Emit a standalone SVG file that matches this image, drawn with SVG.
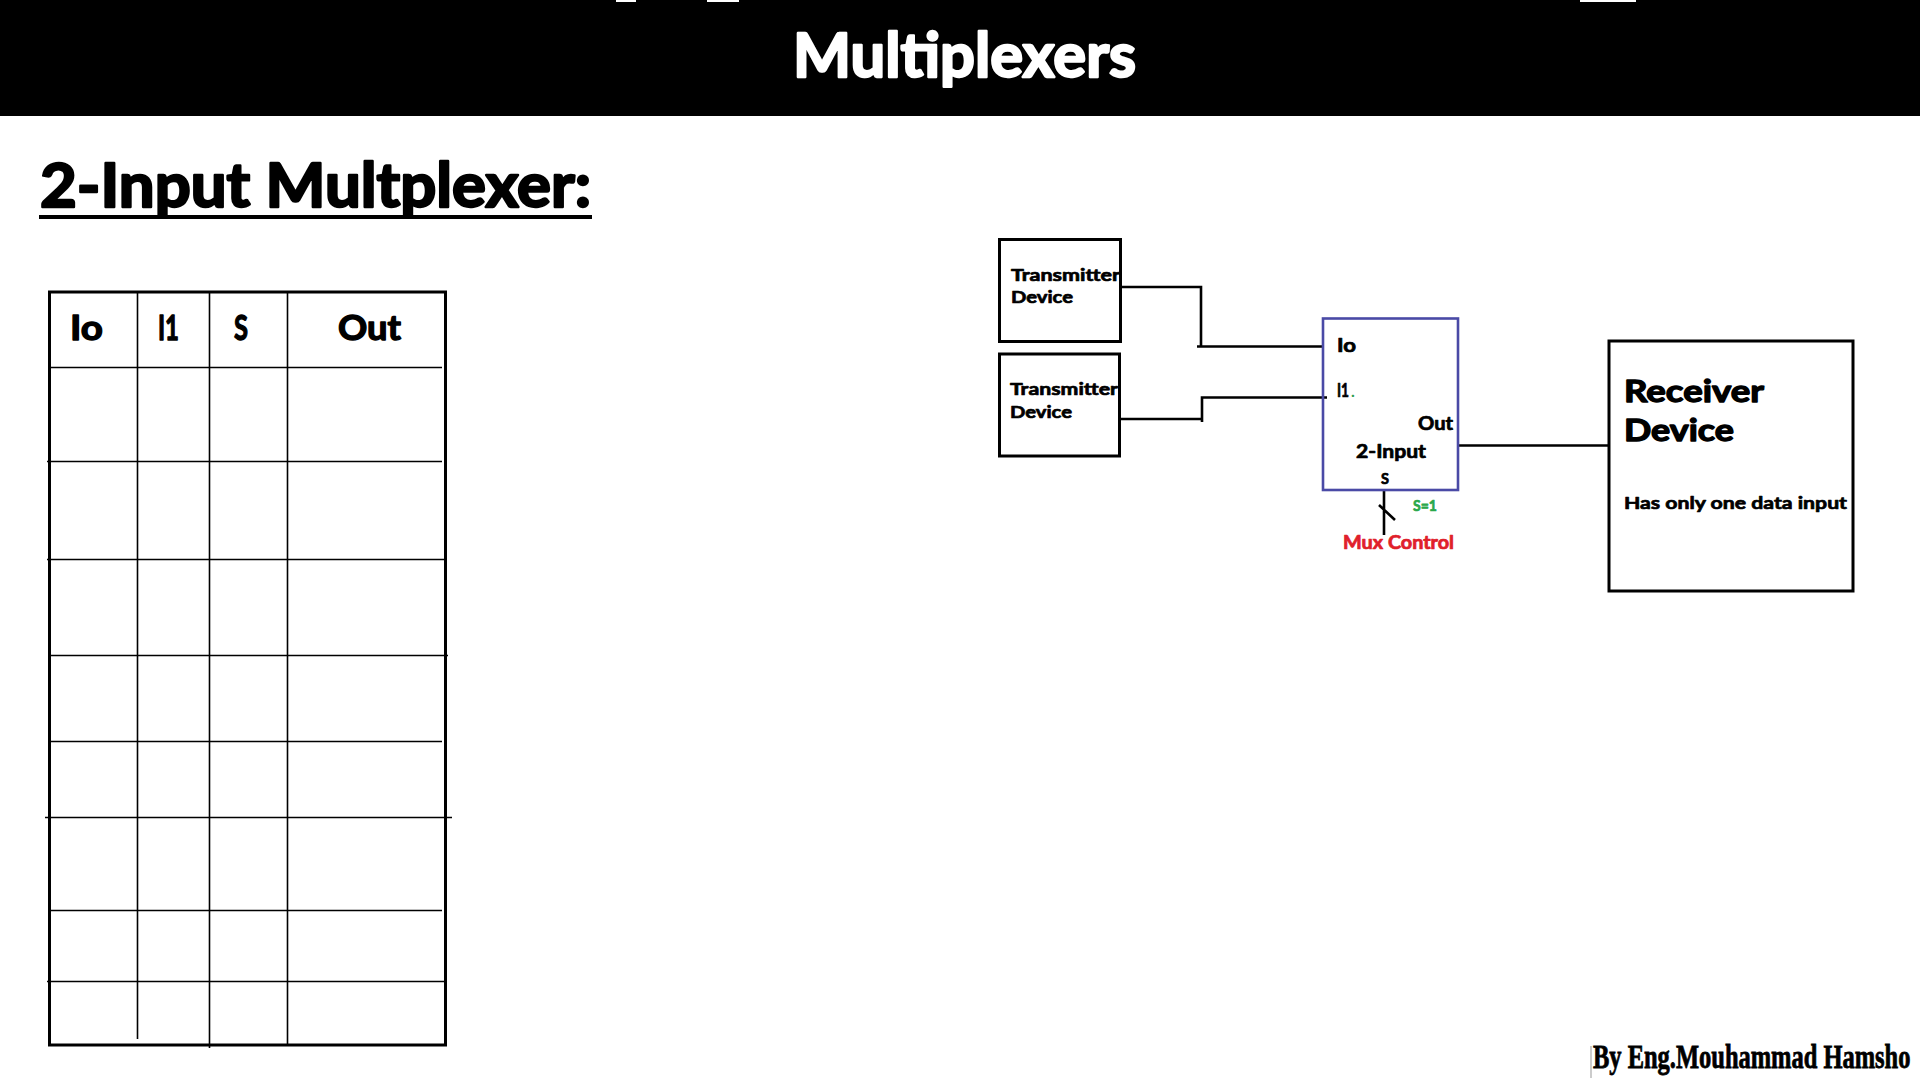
<svg xmlns="http://www.w3.org/2000/svg" width="1920" height="1080" viewBox="0 0 1920 1080">
  <style>
    .t { font-family: Lato, "Open Sans", "Liberation Sans", sans-serif; font-weight: bold; fill: #000; stroke: #000; stroke-linejoin: round; paint-order: stroke fill; }
    .xl { stroke-width: 2.4; }
    .lg { stroke-width: 1.3; }
    .md { stroke-width: 0.7; }
    .box { fill: #fff; stroke: #000; stroke-width: 3; }
    .grid { stroke: #000; stroke-width: 1.6; fill: none; }
    .wire { stroke: #000; stroke-width: 2.6; fill: none; }
  </style>
  <rect x="0" y="0" width="1920" height="1080" fill="#fff"/>

  <g id="header">
    <rect x="0" y="0" width="1920" height="116" fill="#000"/>
    <rect x="616" y="0" width="20" height="2" fill="#fff"/>
    <rect x="707" y="0" width="32" height="2" fill="#fff"/>
    <rect x="1580" y="0" width="56" height="2" fill="#fff"/>
    <text class="t xl" x="793" y="77" font-size="62" textLength="343" lengthAdjust="spacingAndGlyphs" style="fill:#fff;stroke:#fff">Multiplexers</text>
  </g>

  <g id="subtitle">
    <text class="t xl" x="40" y="207" font-size="61" textLength="551" lengthAdjust="spacingAndGlyphs">2-Input Multplexer:</text>
    <rect x="39" y="215" width="553" height="4" fill="#000"/>
  </g>

  <g id="truth-table">
    <rect x="49.5" y="292" width="396" height="753" fill="none" stroke="#000" stroke-width="3"/>
    <line class="grid" x1="137.5" y1="292" x2="137.5" y2="1039"/>
    <line class="grid" x1="209.5" y1="292" x2="209.5" y2="1048"/>
    <line class="grid" x1="287.5" y1="292" x2="287.5" y2="1045"/>
    <line class="grid" x1="50" y1="367.5" x2="442" y2="367.5"/>
    <line class="grid" x1="47" y1="461.5" x2="442" y2="461.5"/>
    <line class="grid" x1="47" y1="559.5" x2="447" y2="559.5"/>
    <line class="grid" x1="50" y1="655.5" x2="448" y2="655.5"/>
    <line class="grid" x1="50" y1="741.5" x2="442" y2="741.5"/>
    <line class="grid" x1="45" y1="817.5" x2="452" y2="817.5"/>
    <line class="grid" x1="50" y1="910.5" x2="442" y2="910.5"/>
    <line class="grid" x1="47" y1="981.5" x2="444" y2="981.5"/>
    <text class="t lg" x="70" y="340" font-size="34" textLength="33" lengthAdjust="spacingAndGlyphs">Io</text>
    <text class="t lg" x="158" y="340" font-size="34" textLength="21" lengthAdjust="spacingAndGlyphs">I1</text>
    <text class="t lg" x="234" y="340" font-size="34" textLength="14" lengthAdjust="spacingAndGlyphs">S</text>
    <text class="t lg" x="338" y="340" font-size="34" textLength="63" lengthAdjust="spacingAndGlyphs">Out</text>
  </g>

  <g id="connectors">
    <path class="wire" d="M1121,287 H1201 V346.5 H1323 M1197,346.5 H1201"/>
    <path class="wire" d="M1120,419 H1202 V397.5 H1327 M1202,419 V422"/>
    <path class="wire" d="M1458,445.5 H1609"/>
    <path class="wire" d="M1384,490 V535 M1379,505 L1395,520"/>
  </g>

  <g id="transmitter-1">
    <rect class="box" x="999.5" y="239.5" width="121" height="102"/>
    <text class="t md" x="1011" y="281" font-size="17.5" textLength="109" lengthAdjust="spacingAndGlyphs">Transmitter</text>
    <text class="t md" x="1011" y="303" font-size="17.5" textLength="62" lengthAdjust="spacingAndGlyphs">Device</text>
  </g>

  <g id="transmitter-2">
    <rect class="box" x="999.5" y="354" width="120" height="102"/>
    <text class="t md" x="1010" y="395" font-size="17.5" textLength="108" lengthAdjust="spacingAndGlyphs">Transmitter</text>
    <text class="t md" x="1010" y="418" font-size="17.5" textLength="62" lengthAdjust="spacingAndGlyphs">Device</text>
  </g>

  <g id="mux">
    <rect x="1323" y="318.5" width="135" height="171.5" fill="none" stroke="#4a4aa6" stroke-width="2.6"/>
    <text class="t md" x="1337" y="352" font-size="18" textLength="19" lengthAdjust="spacingAndGlyphs">Io</text>
    <text class="t md" x="1337" y="397" font-size="18" textLength="12" lengthAdjust="spacingAndGlyphs">I1</text>
    <text class="t" x="1351" y="397" font-size="16" style="fill:#2a9d4a;stroke:none">.</text>
    <text class="t md" x="1418" y="430" font-size="18" textLength="35" lengthAdjust="spacingAndGlyphs">Out</text>
    <text class="t md" x="1356" y="458" font-size="18" textLength="70" lengthAdjust="spacingAndGlyphs">2-Input</text>
    <text class="t md" x="1381" y="484" font-size="15" textLength="8" lengthAdjust="spacingAndGlyphs">S</text>
    <text class="t md" x="1413" y="511" font-size="16" textLength="24" lengthAdjust="spacingAndGlyphs" style="fill:#2aa84a;stroke:#2aa84a">S=1</text>
    <text class="t md" x="1343" y="549" font-size="18" textLength="111" lengthAdjust="spacingAndGlyphs" style="fill:#e0202a;stroke:#e0202a">Mux Control</text>
  </g>

  <g id="receiver">
    <rect class="box" x="1609" y="341" width="244" height="250"/>
    <text class="t lg" x="1624" y="402" font-size="30" textLength="140" lengthAdjust="spacingAndGlyphs">Receiver</text>
    <text class="t lg" x="1624" y="441" font-size="30" textLength="110" lengthAdjust="spacingAndGlyphs">Device</text>
    <text class="t md" x="1624" y="509" font-size="17.5" textLength="223" lengthAdjust="spacingAndGlyphs">Has only one data input</text>
  </g>

  <g id="footer">
    <line x1="1591" y1="1046" x2="1591" y2="1078" stroke="#999" stroke-width="1"/>
    <text transform="translate(1593,1068) scale(0.72,1)" x="0" y="0" font-family="'Liberation Serif', 'DejaVu Serif', serif" font-weight="bold" font-size="34" stroke="#000" stroke-width="0.8" paint-order="stroke fill">By Eng.Mouhammad Hamsho</text>
  </g>
</svg>
